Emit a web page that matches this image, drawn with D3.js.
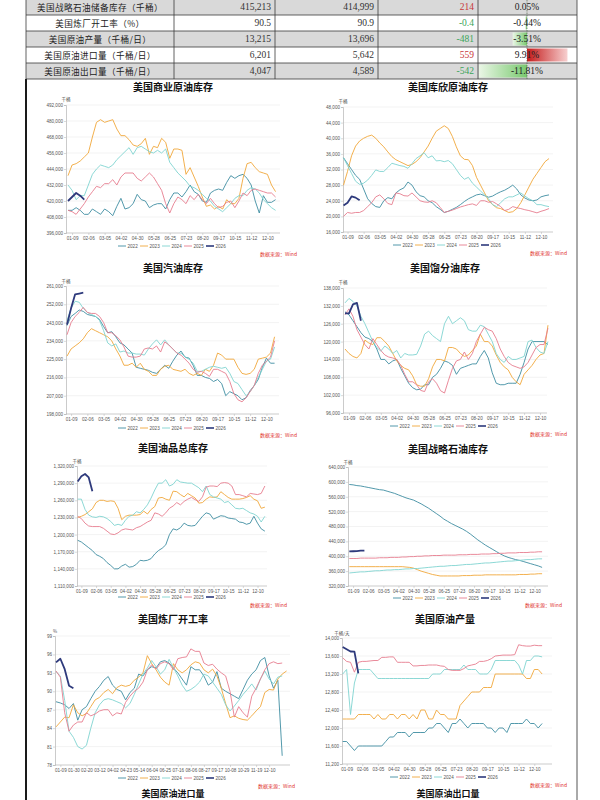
<!DOCTYPE html>
<html>
<head>
<meta charset="utf-8">
<script src="https://cdn.jsdelivr.net/npm/d3@7"></script>
<style>
  body { margin: 0; background: #fff; }
  svg { display: block; }
</style>
</head>
<body>
<div id="chart"></div>
<script>
const WIDTH = 600
const HEIGHT = 800

const YEARS = ["2022", "2023", "2024", "2025", "2026"]
const COLORS = ["#3e8da1", "#f0a73a", "#7fd4d0", "#e67d8e", "#2e3a7c"]

// summary table
const TABLE_NAMES = ["美国战略石油储备库存（千桶）", "美国炼厂开工率（%）", "美国原油产量（千桶/日）", "美国原油进口量（千桶/日）", "美国原油出口量（千桶/日）"]
const TABLE_NOW = ["415,213", "90.5", "13,215", "6,201", "4,047"]
const TABLE_PREV = ["414,999", "90.9", "13,696", "5,642", "4,589"]
const TABLE_CHG = ["214", "-0.4", "-481", "559", "-542"]
const TABLE_PCT = [0.05, -0.44, -3.51, 9.91, -11.81]

// x axis tick labels
const WEEK_LABELS_4 = ["01-09", "02-06", "03-05", "04-02", "04-30", "05-28", "06-25", "07-23", "08-20", "09-17", "10-15", "11-12", "12-10"]
const WEEK_LABELS_3 = ["01-09", "01-30", "02-20", "03-12", "04-02", "04-23", "05-14", "06-04", "06-25", "07-16", "08-06", "08-27", "09-17", "10-08", "10-29", "11-19", "12-10"]

// 美国商业原油库存
const CRUDE_TICKS = [396000, 408000, 420000, 432000, 444000, 456000, 468000, 480000, 492000]
const CRUDE_2022 = [413000,413000,415000,413000,410000,410000,414000,412000,410000,414000,412000,409000,416000,422000,414000,415000,418000,425000,421000,420000,415000,417000,418000,418000,414000,421000,426000,426000,423000,427000,432000,427000,425000,420000,419000,426000,428000,429000,428000,434000,439000,437000,439000,440000,437000,432000,420000,411000,424000,419000,419000,421000]
const CRUDE_2023 = [439000,447000,448000,450000,453000,456000,468000,479000,481000,479000,480000,481000,474000,469000,469000,466000,462000,461000,463000,467000,455000,461000,460000,467000,464000,452000,459000,459000,458000,440000,445000,438000,431000,423000,416000,417000,414000,416000,414000,421000,418000,418000,422000,437000,448000,449000,445000,442000,441000,440000,432000,427000]
const CRUDE_2024 = [432000,428000,421000,424000,424000,432000,440000,444000,447000,446000,445000,447000,451000,454000,457000,460000,455000,460000,461000,459000,457000,456000,458000,456000,459000,449000,445000,441000,438000,435000,431000,430000,428000,425000,422000,420000,416000,414000,412000,415000,418000,422000,424000,424000,428000,430000,429000,426000,421000,418000,415000,413000]
const CRUDE_2025 = [413000,412000,410000,414000,418000,423000,427000,431000,430000,433000,433000,436000,432000,438000,441000,441000,441000,437000,435000,438000,441000,438000,433000,428000,418000,411000,418000,423000,421000,418000,424000,421000,425000,421000,418000,422000,418000,415000,416000,419000,420000,415000,420000,426000,424000,428000,429000,428000,427000,426000,426000,423000]
const CRUDE_2026 = [420000, 423000, 426000, 424000, 421000]

// 美国库欣原油库存
const CUSHING_TICKS = [16000, 20000, 24000, 28000, 32000, 36000, 40000, 44000, 48000]
const CUSHING_2022 = [35000,33500,32000,30500,29500,27000,24500,23300,22500,22300,24000,24800,24500,26000,26800,27300,28800,28000,26300,25300,25000,24000,23500,22500,21800,21000,21300,21800,22300,23000,23800,24500,25000,25500,25700,25300,24900,25200,25800,26300,26700,27300,28000,27000,25500,24700,24200,24000,24200,25000,25300,25500]
const CUSHING_2023 = [28000,31500,35500,38000,39300,40000,40500,40800,40000,38800,37800,36500,35300,34500,34000,33500,33000,33300,34000,35000,36500,38000,40000,41800,42500,43200,42500,40500,37800,35500,34600,34500,33000,30000,28000,26000,24000,23000,22200,22000,21500,21000,21200,22000,23500,25500,27500,29500,31000,32500,34000,34800]
const CUSHING_2024 = [35000,33000,31000,29000,28200,28500,29300,30500,31900,31500,31500,32500,33600,33300,33000,32800,32300,33500,34800,35500,36300,35000,35500,34200,34300,34000,34300,33500,32000,30500,29500,30000,28500,27500,26500,25500,24500,23000,22500,23500,24500,25000,25000,25500,26000,25200,24500,24000,23000,23000,22700,22500]
const CUSHING_2025 = [20000,21000,20800,21000,21000,21500,22500,23500,25000,25500,24500,23300,23000,26000,25800,25300,25200,26000,25000,24000,23700,23600,24000,23500,22300,21000,21300,21600,22000,22400,22700,23000,23200,22800,24000,24000,23600,23800,23200,22500,21500,21800,22500,22200,22000,21700,21500,21200,20900,21300,21600,22000]
const CUSHING_2026 = [22800, 23500, 25100, 24800, 24100]

// 美国汽油库存
const GASOLINE_TICKS = [198000, 207000, 216000, 225000, 234000, 243000, 252000, 261000]
const GASOLINE_2022 = [241500,246000,247500,249200,248500,247000,246500,246000,244500,241000,238000,238500,236000,233000,232000,230000,228000,221000,220500,220000,219500,218500,218000,220000,222000,220500,224000,227000,229000,226000,225500,222000,217000,217000,216000,215500,214000,215000,213000,207000,209000,208000,207000,205000,206000,209500,212000,215000,221000,225500,223000,223000]
const GASOLINE_2023 = [226500,230000,231500,233000,235000,238000,240000,239000,238000,237000,236000,234000,230000,226500,222000,222000,223000,221000,223000,220000,219000,217000,217000,220000,221500,222000,220000,219500,219000,220000,218000,217000,218000,217000,220000,219000,222000,228000,227000,225000,225000,225000,221000,218000,217500,218000,220000,225000,225500,226000,228000,236000]
const GASOLINE_2024 = [244000,250000,253500,253000,250000,248000,247000,246000,244000,239000,233000,231500,232500,228500,229000,228000,228000,227500,227500,227000,230000,232500,234500,232000,234500,232000,230000,228000,228000,226000,225000,223000,219000,219000,220000,221000,221500,221000,220500,221000,218000,214000,213000,210000,207000,209000,212000,216000,220000,224000,225000,231000]
const GASOLINE_2025 = [237000,243000,246000,248000,250500,248000,247500,247500,246000,243000,238000,238000,236500,234500,231000,226500,226000,226000,226500,230000,230500,230000,231500,228500,233500,232000,230000,228000,227000,225000,223000,220000,218500,219000,218000,216500,220000,220000,219000,218000,214000,208000,205000,204000,206000,209000,212000,218000,222000,224000,226000,234000]
const GASOLINE_2026 = [242000, 250000, 256900, 257300, 257700]

// 美国馏分油库存
const DISTILLATE_TICKS = [96000, 102000, 108000, 114000, 120000, 126000, 132000, 138000]
const DISTILLATE_2022 = [130000,129000,127000,125000,123000,121500,121000,120000,117500,114000,114000,112500,113500,114000,111000,108500,106000,104500,103800,104000,105500,105500,108000,109000,111000,113500,113000,112000,109000,111000,111500,112000,112500,112500,115000,117000,114500,109500,106000,105500,105500,106000,106000,106000,109000,113000,117500,120000,120000,120000,120000,119000]
const DISTILLATE_2023 = [117500,116000,115000,114500,116000,120500,119500,119000,121300,121300,120000,118500,116000,113500,112000,111000,110500,108500,105500,105000,105000,107500,111500,114000,114000,113500,118000,118000,117500,116000,115000,115500,117000,118500,122500,120000,120000,118500,115500,113000,111500,110500,108000,106500,105500,109000,110500,112000,114000,115500,116000,125500]
const DISTILLATE_2024 = [133000,134500,133500,132000,128500,126000,123000,120000,118000,116800,118500,117500,116000,117000,114500,116000,115500,115500,115700,118500,122500,123500,122000,121000,120000,126000,128500,126000,127000,128000,127000,124000,123500,123500,125500,125000,122500,120000,116000,114000,113000,115000,114000,114000,114500,115000,120000,120500,118000,116500,116000,120000]
const DISTILLATE_2025 = [129000,131000,128500,124000,121500,119000,117500,121000,119000,117000,115500,114800,114500,114000,112000,109000,106500,106500,105500,103600,103200,106500,107500,106000,103500,102700,107000,111000,113500,114000,116500,114000,116000,120000,122500,124800,124000,123500,121000,117500,115000,113000,112000,111500,111000,111500,113000,115500,118000,119000,119000,124500]
const DISTILLATE_2026 = [129500, 129500, 132500, 133000, 127000]

// 美国油品总库存
const TOTAL_TICKS = [1110000, 1140000, 1170000, 1200000, 1230000, 1260000, 1290000, 1320000]
const TOTAL_2022 = [1190000,1187000,1182000,1177000,1172000,1165000,1162000,1158000,1151000,1146000,1140000,1140000,1145000,1148000,1143000,1144000,1148000,1155000,1154000,1155000,1158000,1166000,1172000,1176000,1182000,1200000,1210000,1208000,1212000,1220000,1216000,1215000,1216000,1224000,1232000,1238000,1236000,1227000,1230000,1233000,1232000,1229000,1228000,1227000,1222000,1221000,1218000,1220000,1232000,1220000,1210000,1206000]
const TOTAL_2023 = [1230000,1232000,1235000,1240000,1245000,1256000,1260000,1260000,1258000,1259000,1258000,1246000,1226000,1232000,1234000,1234000,1234000,1235000,1241000,1236000,1244000,1249000,1264000,1265000,1262000,1260000,1276000,1275000,1270000,1266000,1272000,1268000,1264000,1255000,1256000,1262000,1266000,1265000,1266000,1275000,1270000,1265000,1262000,1262000,1262000,1263000,1265000,1268000,1262000,1259000,1246000,1248000]
const TOTAL_2024 = [1262000,1262000,1244000,1234000,1231000,1230000,1232000,1231000,1228000,1223000,1216000,1218000,1216000,1225000,1232000,1234000,1240000,1238000,1244000,1252000,1264000,1278000,1290000,1290000,1296000,1285000,1288000,1296000,1292000,1291000,1290000,1290000,1286000,1282000,1275000,1285000,1270000,1266000,1264000,1262000,1256000,1258000,1252000,1246000,1245000,1246000,1242000,1238000,1236000,1232000,1222000,1232000]
const TOTAL_2025 = [1232000,1228000,1220000,1215000,1214000,1214000,1214000,1211000,1206000,1201000,1200000,1203000,1208000,1210000,1209000,1208000,1212000,1214000,1218000,1222000,1225000,1238000,1236000,1232000,1238000,1246000,1250000,1256000,1252000,1258000,1262000,1265000,1261000,1258000,1266000,1283000,1285000,1285000,1284000,1290000,1291000,1290000,1285000,1270000,1270000,1268000,1266000,1272000,1271000,1270000,1272000,1285000]
const TOTAL_2026 = [1293000, 1302000, 1306000, 1300000, 1276000]

// 美国战略石油库存
const SPR_TICKS = [320000, 360000, 400000, 440000, 480000, 520000, 560000, 600000, 640000]
const SPR_2022 = [593000,592000,590000,589000,587000,585000,583000,581000,579000,578000,575000,572000,569000,565000,561000,557000,554000,551000,546000,541000,535000,529000,522000,515000,508000,500000,494000,488000,483000,478000,473000,467000,460000,452000,444000,437000,430000,424000,418000,412000,406000,401000,397000,394000,391000,389000,386000,383000,380000,377000,374000,370000]
const SPR_2023 = [372000,372000,372000,372000,372000,372000,372000,372000,372000,372000,372000,372000,372000,372000,372000,371000,370000,368000,364000,360000,357000,354000,351000,349000,347000,347000,347000,347000,347000,347000,348000,348000,348000,349000,349000,349000,350000,350000,350000,350000,350000,350000,350000,350000,350000,351000,351000,351000,352000,352000,353000,353000]
const SPR_2024 = [355000,356000,357000,358000,358000,359000,360000,361000,361000,362000,363000,363000,364000,364000,365000,366000,366000,367000,367000,368000,369000,370000,371000,372000,373000,373000,374000,375000,375000,376000,377000,378000,378000,379000,380000,381000,382000,382000,383000,384000,385000,386000,387000,387000,388000,389000,390000,391000,391000,392000,393000,393000]
const SPR_2025 = [394000,394000,394000,395000,395000,395000,395000,395000,396000,396000,396000,397000,397000,397000,398000,398000,399000,399000,400000,400000,401000,401000,402000,402000,402000,403000,403000,403000,403000,404000,404000,404000,405000,405000,405000,406000,406000,406000,407000,407000,408000,408000,409000,409000,409000,410000,410000,410000,411000,411000,412000,412000]
const SPR_2026 = [413000, 413400, 414000, 414999, 415213]

// 美国炼厂开工率
const UTIL_TICKS = [78, 81, 84, 87, 90, 93, 96, 99]
const UTIL_2022 = [88.3,88.1,87.8,87.2,88.0,85.3,87.0,87.5,88.8,90.0,90.8,91.8,92.4,91.0,90.3,90.0,88.6,89.8,90.5,92.8,92.5,93.5,94.0,93.8,94.8,95.0,94.6,93.8,93.0,92.0,91.0,94.0,93.5,93.5,92.5,91.0,91.5,93.2,90.5,90.0,89.6,89.2,88.8,90.3,91.8,92.8,93.5,95.0,95.5,92.5,90.5,91.8,79.5]
const UTIL_2023 = [84.2,85.0,85.8,85.7,87.8,86.5,86.0,86.4,87.5,88.6,89.0,89.8,90.3,89.6,90.6,91.0,90.8,91.0,91.8,92.3,93.0,95.8,94.5,93.5,92.3,91.5,91.0,94.5,93.5,93.0,93.5,94.3,94.8,94.6,93.5,93.0,93.6,92.5,90.5,88.0,85.7,86.0,85.6,85.4,85.3,86.0,86.8,87.5,89.8,90.3,90.2,92.0,92.8,93.3]
const UTIL_2024 = [93.2,92.5,88.5,83.5,82.5,81.0,80.6,81.2,84.0,86.5,87.8,88.6,88.8,88.6,88.3,88.0,87.3,88.0,89.5,91.2,92.8,93.8,95.0,94.0,92.8,93.5,95.2,93.8,92.5,91.0,90.0,90.3,90.8,91.5,92.8,92.5,91.5,90.5,89.5,87.8,86.8,87.6,88.5,89.5,90.3,91.2,90.2,92.0,93.3,92.0,91.2,92.3,92.5]
const UTIL_2025 = [93.3,92.3,86.5,83.5,84.5,85.0,85.0,86.5,86.0,86.3,86.8,87.0,87.0,86.0,86.5,86.3,88.2,89.2,90.0,90.5,91.5,93.5,94.3,93.6,94.5,94.8,94.5,93.5,95.3,95.5,95.6,96.9,96.5,96.5,94.6,94.2,94.4,93.6,93.0,92.5,90.0,85.8,87.5,86.5,85.8,89.2,90.5,92.0,93.5,94.5,94.8,94.5,94.6]
const UTIL_2026 = [94.7, 95.3, 93.6, 90.9, 90.5]

// 美国原油产量
const PROD_TICKS = [11200, 11600, 12000, 12400, 12800, 13200, 13600, 14000]
const PROD_2022 = [11700,11700,11600,11500,11600,11600,11600,11600,11600,11600,11600,11700,11800,11800,11900,11900,11900,11800,11900,11900,11900,11900,12000,12000,12100,12100,12000,11900,12100,12100,12200,12100,12000,12100,12100,12100,12100,12000,12000,11900,12000,12000,11900,12100,12100,12100,12100,12200,12100,12100,12000,12100]
const PROD_2023 = [12200,12200,12200,12200,12300,12300,12300,12300,12200,12300,12200,12200,12300,12300,12200,12300,12300,12200,12300,12200,12400,12400,12200,12200,12400,12300,12300,12200,12200,12200,12500,12600,12700,12800,12800,12800,12900,12900,12900,13200,13200,13200,13200,13200,13200,13200,13200,13100,13100,13300,13300,13200]
const PROD_2024 = [13200,13300,12300,13000,13300,13300,13300,13300,13200,13100,13100,13100,13100,13100,13100,13100,13100,13100,13100,13100,13100,13100,13100,13200,13200,13200,13300,13300,13300,13300,13300,13400,13300,13300,13300,13200,13200,13200,13300,13500,13500,13500,13500,13500,13500,13400,13200,13500,13500,13600,13600,13580]
const PROD_2025 = [13560,13480,13460,13240,13460,13480,13480,13490,13500,13500,13570,13570,13580,13580,13460,13460,13460,13460,13380,13380,13390,13390,13400,13400,13400,13380,13370,13300,13280,13280,13280,13320,13380,13400,13420,13480,13480,13500,13540,13600,13610,13620,13620,13620,13630,13850,13830,13820,13820,13840,13830,13830]
const PROD_2026 = [13800, 13750, 13700, 13696, 13215]

const CHARTS = [
  { title: "美国商业原油库存", unit: "千桶", ticks: CRUDE_TICKS, labels: WEEK_LABELS_4, every: 4,
    series: [CRUDE_2022, CRUDE_2023, CRUDE_2024, CRUDE_2025, CRUDE_2026],
    axis: 66, right: 280, top: 105, bottom: 233, x0: 68, step: 4.07, titleY: 86, unitY: 99, legendY: 246, srcX: 297, srcY: 253, cx: 173 },
  { title: "美国库欣原油库存", unit: "千桶", ticks: CUSHING_TICKS, labels: WEEK_LABELS_4, every: 4,
    series: [CUSHING_2022, CUSHING_2023, CUSHING_2024, CUSHING_2025, CUSHING_2026],
    axis: 343, right: 553, top: 107, bottom: 232, x0: 343.5, step: 4.03, titleY: 86, unitY: 101, legendY: 245, srcX: 567, srcY: 252, cx: 448 },
  { title: "美国汽油库存", unit: "千桶", ticks: GASOLINE_TICKS, labels: WEEK_LABELS_4, every: 4,
    series: [GASOLINE_2022, GASOLINE_2023, GASOLINE_2024, GASOLINE_2025, GASOLINE_2026],
    axis: 66, right: 279, top: 286, bottom: 414, x0: 67, step: 4.07, titleY: 267, unitY: 281, legendY: 428, srcX: 297, srcY: 434, cx: 173 },
  { title: "美国馏分油库存", unit: "千桶", ticks: DISTILLATE_TICKS, labels: WEEK_LABELS_4, every: 4,
    series: [DISTILLATE_2022, DISTILLATE_2023, DISTILLATE_2024, DISTILLATE_2025, DISTILLATE_2026],
    axis: 343, right: 547, top: 288, bottom: 413, x0: 345, step: 3.98, titleY: 267, unitY: 282, legendY: 426, srcX: 567, srcY: 433, cx: 445 },
  { title: "美国油品总库存", unit: "千桶", ticks: TOTAL_TICKS, labels: WEEK_LABELS_4, every: 4,
    series: [TOTAL_2022, TOTAL_2023, TOTAL_2024, TOTAL_2025, TOTAL_2026],
    axis: 77, right: 267, top: 466, bottom: 586, x0: 77.7, step: 3.67, titleY: 447, unitY: 461, legendY: 597, srcX: 287, srcY: 604, cx: 173 },
  { title: "美国战略石油库存", unit: "千桶", ticks: SPR_TICKS, labels: WEEK_LABELS_4, every: 4,
    series: [SPR_2022, SPR_2023, SPR_2024, SPR_2025, SPR_2026],
    axis: 348, right: 548, top: 467, bottom: 586, x0: 349.3, step: 3.78, titleY: 448, unitY: 462, legendY: 598, srcX: 562, srcY: 604, cx: 448 },
  { title: "美国炼厂开工率", unit: "%", ticks: UTIL_TICKS, labels: WEEK_LABELS_3, every: 3,
    series: [UTIL_2022, UTIL_2023, UTIL_2024, UTIL_2025, UTIL_2026],
    axis: 55, right: 290, top: 636, bottom: 765, x0: 56, step: 4.35, titleY: 618, unitY: 631, legendY: 778, srcX: 295, srcY: 785, cx: 173 },
  { title: "美国原油产量", unit: "千桶/天", ticks: PROD_TICKS, labels: WEEK_LABELS_4, every: 4,
    series: [PROD_2022, PROD_2023, PROD_2024, PROD_2025, PROD_2026],
    axis: 342, right: 552, top: 638, bottom: 764, x0: 342.7, step: 3.91, titleY: 618, unitY: 633, legendY: 777, srcX: 567, srcY: 784, cx: 445 }
]

const NEXT_TITLES = [{ text: "美国原油进口量", x: 173 }, { text: "美国原油出口量", x: 448 }]

const CJK = "'Noto Sans CJK SC', sans-serif"
const SANS = "'Liberation Sans', Arial, sans-serif"
const SERIF = "'Liberation Serif', 'Times New Roman', serif"

const svg = d3.select("#chart")
  .append("svg")
  .attr("width", WIDTH)
  .attr("height", HEIGHT)

svg.append("rect").attr("width", WIDTH).attr("height", HEIGHT).attr("fill", "#fff")

// ---------- table ----------
const COL_X = [26, 174, 275, 378, 478, 577]
const ROW_TOP = -1
const ROW_H = 16
const PCT_AXIS = 527

const defs = svg.append("defs")
const red = defs.append("linearGradient").attr("id", "redbar")
red.append("stop").attr("offset", "0%").attr("stop-color", "#c41a1a")
red.append("stop").attr("offset", "100%").attr("stop-color", "#f7d0d0")
const green = defs.append("linearGradient").attr("id", "greenbar")
green.append("stop").attr("offset", "0%").attr("stop-color", "#eaf6e6")
green.append("stop").attr("offset", "100%").attr("stop-color", "#79c96f")

const pctScale = d3.scaleLinear().domain([-12, 12]).range([COL_X[4], COL_X[5] - 1])

const rows = svg.selectAll(".trow")
  .data(TABLE_NAMES)
  .enter()
  .append("g")
  .attr("class", "trow")
  .attr("transform", (d, i) => `translate(0,${ROW_TOP + i * ROW_H})`)

rows.append("rect")
  .attr("x", COL_X[0]).attr("width", COL_X[5] - COL_X[0])
  .attr("height", ROW_H)
  .attr("fill", (d, i) => i % 2 === 0 ? "#d9d9d9" : "#ffffff")

rows.append("rect")
  .attr("x", (d, i) => TABLE_PCT[i] < 0 ? pctScale(TABLE_PCT[i]) : PCT_AXIS)
  .attr("y", 1.5)
  .attr("width", (d, i) => Math.abs(pctScale(TABLE_PCT[i]) - PCT_AXIS))
  .attr("height", ROW_H - 3)
  .attr("fill", (d, i) => TABLE_PCT[i] < 0 ? "url(#greenbar)" : "url(#redbar)")

rows.append("text")
  .attr("x", (COL_X[0] + COL_X[1]) / 2).attr("y", ROW_H / 2)
  .attr("text-anchor", "middle").attr("dominant-baseline", "central")
  .style("font-family", CJK).style("font-size", "8.6px").attr("fill", "#222")
  .attr("letter-spacing", "0.4")
  .text(d => d)

rows.append("text")
  .attr("x", COL_X[2] - 4).attr("y", ROW_H / 2)
  .attr("text-anchor", "end").attr("dominant-baseline", "central")
  .style("font-family", SERIF).style("font-size", "9.5px").attr("fill", "#333")
  .text((d, i) => TABLE_NOW[i])

rows.append("text")
  .attr("x", COL_X[3] - 4).attr("y", ROW_H / 2)
  .attr("text-anchor", "end").attr("dominant-baseline", "central")
  .style("font-family", SERIF).style("font-size", "9.5px").attr("fill", "#333")
  .text((d, i) => TABLE_PREV[i])

rows.append("text")
  .attr("x", COL_X[4] - 4).attr("y", ROW_H / 2)
  .attr("text-anchor", "end").attr("dominant-baseline", "central")
  .style("font-family", SERIF).style("font-size", "9.5px")
  .attr("fill", (d, i) => TABLE_CHG[i].startsWith("-") ? "#3aa55a" : "#c8373a")
  .text((d, i) => TABLE_CHG[i])

rows.append("text")
  .attr("x", PCT_AXIS).attr("y", ROW_H / 2)
  .attr("text-anchor", "middle").attr("dominant-baseline", "central")
  .style("font-family", SERIF).style("font-size", "9.5px").attr("fill", "#222")
  .text((d, i) => TABLE_PCT[i].toFixed(2) + "%")

// grid lines of the table
svg.selectAll(".hline")
  .data(d3.range(TABLE_NAMES.length + 1))
  .enter()
  .append("line")
  .attr("x1", COL_X[0]).attr("x2", COL_X[5])
  .attr("y1", d => ROW_TOP + d * ROW_H).attr("y2", d => ROW_TOP + d * ROW_H)
  .attr("stroke", "#3a3a3a").attr("stroke-width", 0.8)

svg.selectAll(".vline")
  .data(COL_X)
  .enter()
  .append("line")
  .attr("x1", d => d).attr("x2", d => d)
  .attr("y1", 0).attr("y2", ROW_TOP + TABLE_NAMES.length * ROW_H)
  .attr("stroke", "#3a3a3a").attr("stroke-width", 0.8)

svg.append("line")
  .attr("x1", PCT_AXIS).attr("x2", PCT_AXIS)
  .attr("y1", 0).attr("y2", ROW_TOP + TABLE_NAMES.length * ROW_H)
  .attr("stroke", "#3d5a3d").attr("stroke-width", 0.6)
  .attr("stroke-dasharray", "1.5,1")

// ---------- chart panel border ----------
const PANEL_TOP = ROW_TOP + TABLE_NAMES.length * ROW_H
svg.append("line")
  .attr("x1", 26).attr("x2", 26).attr("y1", PANEL_TOP).attr("y2", HEIGHT)
  .attr("stroke", "#1a1a1a").attr("stroke-width", 2)
svg.append("line")
  .attr("x1", 577).attr("x2", 577).attr("y1", PANEL_TOP).attr("y2", HEIGHT)
  .attr("stroke", "#555").attr("stroke-width", 1)

// ---------- small line charts ----------
function drawChart(c) {
  const g = svg.append("g")
  const last = d3.max(c.series, s => s.length) - 1

  const x = d3.scaleLinear()
    .domain([0, last])
    .range([c.x0, c.x0 + last * c.step])

  const y = d3.scaleLinear()
    .domain([c.ticks[0], c.ticks[c.ticks.length - 1]])
    .range([c.bottom, c.top])

  // horizontal grid
  g.selectAll(".grid")
    .data(c.ticks.slice(1))
    .enter()
    .append("line")
    .attr("x1", c.axis).attr("x2", c.right)
    .attr("y1", d => y(d)).attr("y2", d => y(d))
    .attr("stroke", "#ebebeb").attr("stroke-width", 0.6)

  const yAxis = d3.axisLeft(y)
    .tickValues(c.ticks)
    .tickFormat(d3.format(","))
    .tickSize(2)
    .tickPadding(1)

  const yg = g.append("g")
    .attr("transform", `translate(${c.axis},0)`)
    .call(yAxis)

  const xAxis = d3.axisBottom(x)
    .tickValues(c.labels.map((d, i) => 1 + i * c.every))
    .tickFormat((d, i) => c.labels[i])
    .tickSize(2)
    .tickPadding(1.5)

  const xg = g.append("g")
    .attr("transform", `translate(0,${c.bottom})`)
    .call(xAxis)

  xg.select(".domain").remove()
  xg.append("line")
    .attr("x1", c.axis).attr("x2", c.right)
    .attr("stroke", "#b5b5b5").attr("stroke-width", 0.7)

  for (const a of [yg, xg]) {
    a.selectAll(".domain").attr("stroke", "#b5b5b5").attr("stroke-width", 0.7)
    a.selectAll(".tick line").attr("stroke", "#b5b5b5").attr("stroke-width", 0.5)
    a.selectAll("text").style("font-family", SANS).style("font-size", "4.6px").attr("fill", "#555")
  }

  const line = d3.line()
    .x((d, i) => x(i))
    .y(d => y(d))

  g.selectAll(".series")
    .data(c.series)
    .enter()
    .append("path")
    .attr("d", d => line(d))
    .attr("fill", "none")
    .attr("stroke", (d, i) => COLORS[i])
    .attr("stroke-width", (d, i) => i === 4 ? 1.8 : 0.9)
    .attr("stroke-linejoin", "round")

  // title, unit, legend, source
  g.append("text")
    .attr("x", c.cx).attr("y", c.titleY)
    .attr("text-anchor", "middle").attr("dominant-baseline", "central")
    .style("font-family", CJK).style("font-size", "10px").style("font-weight", "bold")
    .attr("fill", "#111")
    .text(c.title)

  g.append("text")
    .attr("x", c.axis).attr("y", c.unitY)
    .attr("text-anchor", "middle").attr("dominant-baseline", "central")
    .style("font-family", CJK).style("font-size", "4.5px").attr("fill", "#555")
    .text(c.unit)

  const leg = g.selectAll(".leg")
    .data(YEARS)
    .enter()
    .append("g")
    .attr("transform", (d, i) => `translate(${c.cx + (i - 2) * 22 - 3},${c.legendY})`)

  leg.append("line")
    .attr("x1", -8).attr("x2", 0)
    .attr("stroke", (d, i) => COLORS[i])
    .attr("stroke-width", (d, i) => i === 4 ? 1.6 : 0.9)

  leg.append("text")
    .attr("x", 1.5).attr("dominant-baseline", "central")
    .style("font-family", SANS).style("font-size", "4.6px").attr("fill", "#555")
    .text(d => d)

  g.append("text")
    .attr("x", c.srcX).attr("y", c.srcY)
    .attr("text-anchor", "end").attr("dominant-baseline", "central")
    .style("font-family", CJK).style("font-size", "5px").attr("fill", "#e0322c")
    .text("数据来源：Wind")
}

CHARTS.forEach(drawChart)

// titles of the next row of charts, at the bottom edge
svg.selectAll(".next-title")
  .data(NEXT_TITLES)
  .enter()
  .append("text")
  .attr("x", d => d.x).attr("y", 797)
  .attr("text-anchor", "middle")
  .style("font-family", CJK).style("font-size", "9px").style("font-weight", "bold")
  .attr("fill", "#111")
  .text(d => d.text)
</script>
</body>
</html>
